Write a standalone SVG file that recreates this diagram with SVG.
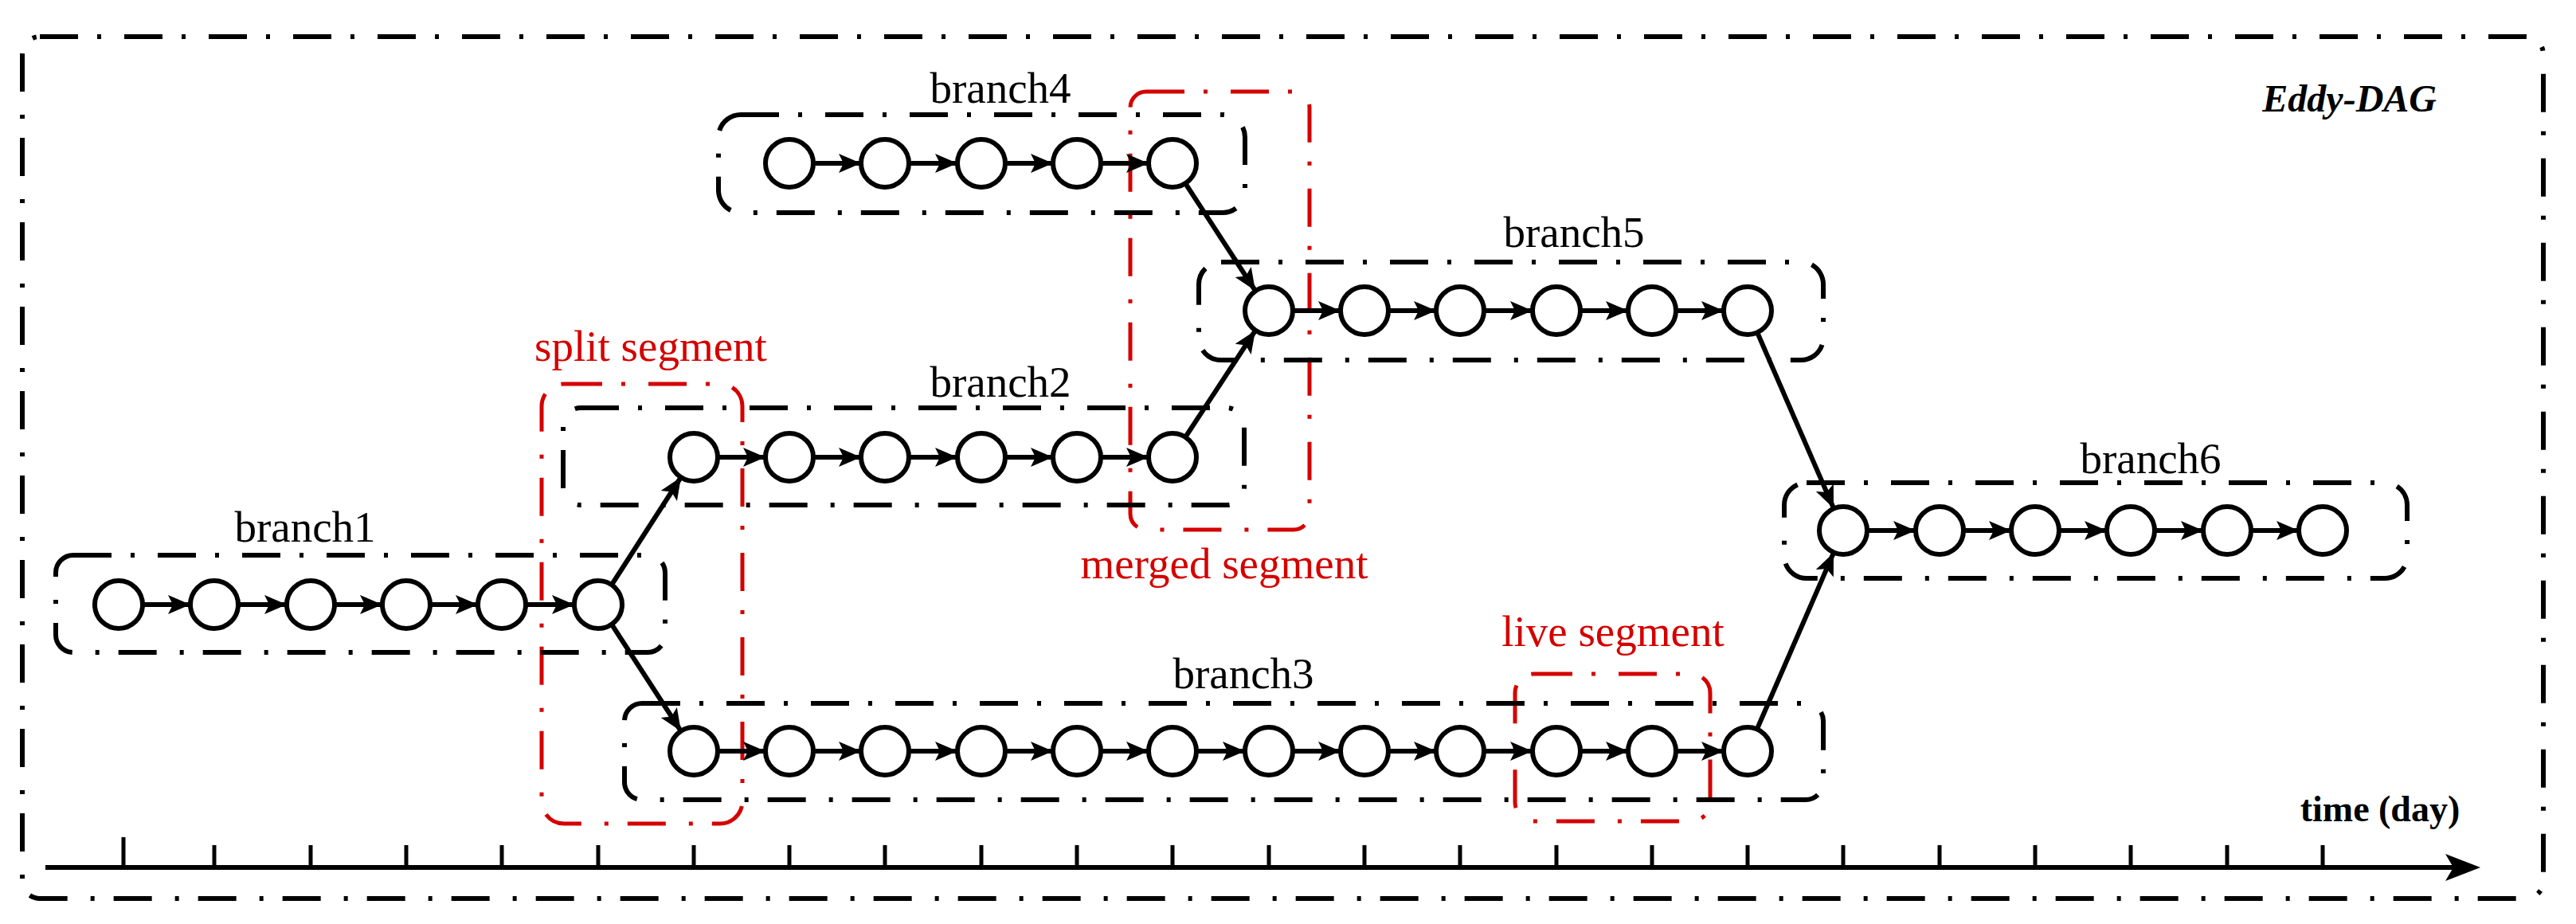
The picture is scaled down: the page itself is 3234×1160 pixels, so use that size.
<svg xmlns="http://www.w3.org/2000/svg" width="3234" height="1160" viewBox="0 0 3234 1160">
<style>
.frame{fill:none;stroke:#000;stroke-width:6;stroke-dasharray:48 24 5 29}
.box{fill:none;stroke:#000;stroke-width:6;stroke-dasharray:48 24 5 29}
.seg{fill:none;stroke:#d40000;stroke-width:5;stroke-dasharray:48 24 5 29}
.n{fill:#fff;stroke:#000;stroke-width:6}
.e{stroke:#000;stroke-width:6;marker-end:url(#ah)}
.lbl{font-family:"Liberation Serif",serif;font-size:55px;text-anchor:middle;fill:#000}
.red{fill:#d40000}
.tk{stroke:#000;stroke-width:5}
</style>
<defs>
<marker id="ah" markerUnits="userSpaceOnUse" markerWidth="30" markerHeight="26" refX="28" refY="12" orient="auto" viewBox="0 0 30 26">
<path d="M0,0 L28,12 L0,24 L6,12 Z" fill="#000"/>
</marker>
</defs>
<rect width="3234" height="1160" fill="#fff"/>
<rect class="frame" x="28" y="46" width="3165" height="1082" rx="22"/>
<text x="3059" y="140" font-family="Liberation Serif,serif" font-size="48" font-weight="bold" font-style="italic" text-anchor="end">Eddy-DAG</text>
<g id="axis">
<line x1="57" y1="1089" x2="3090" y2="1089" stroke="#000" stroke-width="6"/>
<path d="M3114,1089 L3070,1072 L3080,1089 L3070,1106 Z" fill="#000"/>
<line class="tk" x1="155" y1="1051" x2="155" y2="1089"/>
<line class="tk" x1="269" y1="1061" x2="269" y2="1089"/><line class="tk" x1="390" y1="1061" x2="390" y2="1089"/><line class="tk" x1="510" y1="1061" x2="510" y2="1089"/><line class="tk" x1="630" y1="1061" x2="630" y2="1089"/><line class="tk" x1="751" y1="1061" x2="751" y2="1089"/><line class="tk" x1="871" y1="1061" x2="871" y2="1089"/><line class="tk" x1="991" y1="1061" x2="991" y2="1089"/><line class="tk" x1="1111" y1="1061" x2="1111" y2="1089"/><line class="tk" x1="1232" y1="1061" x2="1232" y2="1089"/><line class="tk" x1="1352" y1="1061" x2="1352" y2="1089"/><line class="tk" x1="1472" y1="1061" x2="1472" y2="1089"/><line class="tk" x1="1593" y1="1061" x2="1593" y2="1089"/><line class="tk" x1="1713" y1="1061" x2="1713" y2="1089"/><line class="tk" x1="1833" y1="1061" x2="1833" y2="1089"/><line class="tk" x1="1954" y1="1061" x2="1954" y2="1089"/><line class="tk" x1="2074" y1="1061" x2="2074" y2="1089"/><line class="tk" x1="2194" y1="1061" x2="2194" y2="1089"/><line class="tk" x1="2314" y1="1061" x2="2314" y2="1089"/><line class="tk" x1="2435" y1="1061" x2="2435" y2="1089"/><line class="tk" x1="2555" y1="1061" x2="2555" y2="1089"/><line class="tk" x1="2675" y1="1061" x2="2675" y2="1089"/><line class="tk" x1="2796" y1="1061" x2="2796" y2="1089"/><line class="tk" x1="2916" y1="1061" x2="2916" y2="1089"/>
<text x="2988" y="1031" font-family="Liberation Serif,serif" font-size="46" font-weight="bold" text-anchor="middle">time (day)</text>
</g>
<g id="segments">
<rect class="seg" x="680" y="482" width="252" height="552" rx="28"/>
<text class="lbl red" x="817" y="453">split segment</text>
<rect class="seg" x="1419" y="115" width="225" height="550" rx="20"/>
<text class="lbl red" x="1537" y="726">merged segment</text>
<rect class="seg" x="1902" y="846" width="245" height="185" rx="24"/>
<text class="lbl red" x="2025" y="811">live segment</text>
</g>
<g id="branch1">
<rect class="box" x="70" y="697" width="765" height="122" rx="22"/>
<text class="lbl" x="383" y="680">branch1</text>
<circle class="n" cx="149" cy="759" r="30"/><circle class="n" cx="269" cy="759" r="30"/><circle class="n" cx="390" cy="759" r="30"/><circle class="n" cx="510" cy="759" r="30"/><circle class="n" cx="630" cy="759" r="30"/><circle class="n" cx="751" cy="759" r="30"/>
</g>
<g id="branch2">
<rect class="box" x="707" y="512" width="855" height="122" rx="22"/>
<text class="lbl" x="1256" y="498">branch2</text>
<circle class="n" cx="871" cy="574" r="30"/><circle class="n" cx="991" cy="574" r="30"/><circle class="n" cx="1111" cy="574" r="30"/><circle class="n" cx="1232" cy="574" r="30"/><circle class="n" cx="1352" cy="574" r="30"/><circle class="n" cx="1472" cy="574" r="30"/>
</g>
<g id="branch3">
<rect class="box" x="784" y="883" width="1505" height="121" rx="22"/>
<text class="lbl" x="1561" y="864">branch3</text>
<circle class="n" cx="871" cy="943" r="30"/><circle class="n" cx="991" cy="943" r="30"/><circle class="n" cx="1111" cy="943" r="30"/><circle class="n" cx="1232" cy="943" r="30"/><circle class="n" cx="1352" cy="943" r="30"/><circle class="n" cx="1472" cy="943" r="30"/><circle class="n" cx="1593" cy="943" r="30"/><circle class="n" cx="1713" cy="943" r="30"/><circle class="n" cx="1833" cy="943" r="30"/><circle class="n" cx="1954" cy="943" r="30"/><circle class="n" cx="2074" cy="943" r="30"/><circle class="n" cx="2194" cy="943" r="30"/>
</g>
<g id="branch4">
<rect class="box" x="902" y="144" width="661" height="123" rx="28"/>
<text class="lbl" x="1256" y="129">branch4</text>
<circle class="n" cx="991" cy="205" r="30"/><circle class="n" cx="1111" cy="205" r="30"/><circle class="n" cx="1232" cy="205" r="30"/><circle class="n" cx="1352" cy="205" r="30"/><circle class="n" cx="1472" cy="205" r="30"/>
</g>
<g id="branch5">
<rect class="box" x="1505" y="329" width="784" height="123" rx="28"/>
<text class="lbl" x="1976" y="310">branch5</text>
<circle class="n" cx="1593" cy="390" r="30"/><circle class="n" cx="1713" cy="390" r="30"/><circle class="n" cx="1833" cy="390" r="30"/><circle class="n" cx="1954" cy="390" r="30"/><circle class="n" cx="2074" cy="390" r="30"/><circle class="n" cx="2194" cy="390" r="30"/>
</g>
<g id="branch6">
<rect class="box" x="2240" y="606" width="782" height="120" rx="28"/>
<text class="lbl" x="2700" y="594">branch6</text>
<circle class="n" cx="2314" cy="666" r="30"/><circle class="n" cx="2435" cy="666" r="30"/><circle class="n" cx="2555" cy="666" r="30"/><circle class="n" cx="2675" cy="666" r="30"/><circle class="n" cx="2796" cy="666" r="30"/><circle class="n" cx="2916" cy="666" r="30"/>
</g>
<g id="connectors">
<line class="e" x1="179" y1="759" x2="239" y2="759"/><line class="e" x1="299" y1="759" x2="360" y2="759"/><line class="e" x1="420" y1="759" x2="480" y2="759"/><line class="e" x1="540" y1="759" x2="600" y2="759"/><line class="e" x1="660" y1="759" x2="721" y2="759"/>
<line class="e" x1="901" y1="574" x2="961" y2="574"/><line class="e" x1="1021" y1="574" x2="1081" y2="574"/><line class="e" x1="1141" y1="574" x2="1202" y2="574"/><line class="e" x1="1262" y1="574" x2="1322" y2="574"/><line class="e" x1="1382" y1="574" x2="1442" y2="574"/>
<line class="e" x1="901" y1="943" x2="961" y2="943"/><line class="e" x1="1021" y1="943" x2="1081" y2="943"/><line class="e" x1="1141" y1="943" x2="1202" y2="943"/><line class="e" x1="1262" y1="943" x2="1322" y2="943"/><line class="e" x1="1382" y1="943" x2="1442" y2="943"/><line class="e" x1="1502" y1="943" x2="1563" y2="943"/><line class="e" x1="1623" y1="943" x2="1683" y2="943"/><line class="e" x1="1743" y1="943" x2="1803" y2="943"/><line class="e" x1="1863" y1="943" x2="1924" y2="943"/><line class="e" x1="1984" y1="943" x2="2044" y2="943"/><line class="e" x1="2104" y1="943" x2="2164" y2="943"/>
<line class="e" x1="1021" y1="205" x2="1081" y2="205"/><line class="e" x1="1141" y1="205" x2="1202" y2="205"/><line class="e" x1="1262" y1="205" x2="1322" y2="205"/><line class="e" x1="1382" y1="205" x2="1442" y2="205"/>
<line class="e" x1="1623" y1="390" x2="1683" y2="390"/><line class="e" x1="1743" y1="390" x2="1803" y2="390"/><line class="e" x1="1863" y1="390" x2="1924" y2="390"/><line class="e" x1="1984" y1="390" x2="2044" y2="390"/><line class="e" x1="2104" y1="390" x2="2164" y2="390"/>
<line class="e" x1="2344" y1="666" x2="2405" y2="666"/><line class="e" x1="2465" y1="666" x2="2525" y2="666"/><line class="e" x1="2585" y1="666" x2="2645" y2="666"/><line class="e" x1="2705" y1="666" x2="2766" y2="666"/><line class="e" x1="2826" y1="666" x2="2886" y2="666"/>
<line class="e" x1="768" y1="734" x2="855" y2="599"/>
<line class="e" x1="768" y1="784" x2="855" y2="918"/>
<line class="e" x1="1488" y1="230" x2="1576" y2="365"/>
<line class="e" x1="1488" y1="549" x2="1576" y2="415"/>
<line class="e" x1="2206" y1="417" x2="2302" y2="638"/>
<line class="e" x1="2206" y1="915" x2="2302" y2="694"/>
</g>
</svg>
